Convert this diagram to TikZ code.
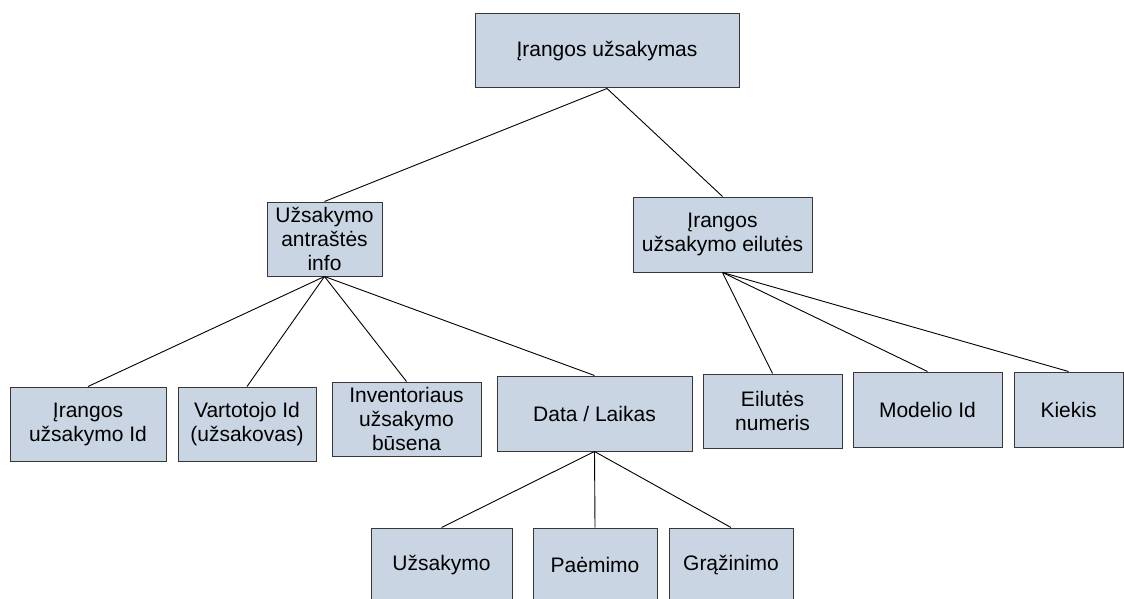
\documentclass[tikz,border=0pt]{standalone}
\usepackage{fontspec}
\setmainfont{Liberation Sans}
\definecolor{boxfill}{RGB}{201,213,227}
\definecolor{boxline}{RGB}{55,55,55}
\begin{document}
\begin{tikzpicture}[x=1pt,y=-1pt,
  box/.style={draw=boxline, fill=boxfill, line width=1pt, rectangle,
    inner sep=0pt, align=center,
    font=\fontsize{21}{24}\selectfont},
  link/.style={draw=black, line width=0.9pt}]
\useasboundingbox (0,0) rectangle (1124,599);
\clip (0,0) rectangle (1124,599);

% root
\node[box, minimum width=264pt, minimum height=74pt] (root) at (607,51) {Įrangos užsakymas};

% second level
\node[box, minimum width=115pt, minimum height=74pt] (hdr) at (324.5,239) {Užsakymo\\antraštės\\info};
\node[box, minimum width=179pt, minimum height=75pt] (rows) at (722.5,234.5) {Įrangos\\užsakymo eilutės};

% header fields
\node[box, minimum width=156pt, minimum height=74pt] (oid) at (88,424) {Įrangos\\užsakymo Id};
\node[box, minimum width=138pt, minimum height=74pt] (user) at (247,424) {Vartotojo Id\\(užsakovas)};
\node[box, minimum width=149pt, minimum height=74pt] (state) at (406.5,419) {Inventoriaus\\užsakymo\\būsena};
\node[box, minimum width=195pt, minimum height=75pt] (dt) at (594.5,413.5) {Data / Laikas};

% row fields
\node[box, minimum width=139pt, minimum height=74pt] (num) at (772.5,411) {Eilutės\\numeris};
\node[box, minimum width=149pt, minimum height=75pt] (model) at (927.5,409.5) {Modelio Id};
\node[box, minimum width=109pt, minimum height=75pt] (qty) at (1068.5,409.5) {Kiekis};

% date kinds
\node[box, minimum width=141pt, minimum height=74pt] (ord) at (441.5,565) {Užsakymo};
\node[box, minimum width=124pt, minimum height=74pt] (pick) at (595,565) {Paėmimo};
\node[box, minimum width=124pt, minimum height=74pt] (ret) at (731,565) {Grąžinimo};

% connectors
\draw[link] (root.south) -- (hdr.north);
\draw[link] (root.south) -- (rows.north);
\draw[link] (hdr.south) -- (oid.north);
\draw[link] (hdr.south) -- (user.north);
\draw[link] (hdr.south) -- (state.north);
\draw[link] (hdr.south) -- (dt.north);
\draw[link] (rows.south) -- (num.north);
\draw[link] (rows.south) -- (model.north);
\draw[link] (rows.south) -- (qty.north);
\draw[link] (dt.south) -- (ord.north);
\draw[link] (dt.south) -- (pick.north);
\draw[link] (dt.south) -- (ret.north);
\end{tikzpicture}
\end{document}
